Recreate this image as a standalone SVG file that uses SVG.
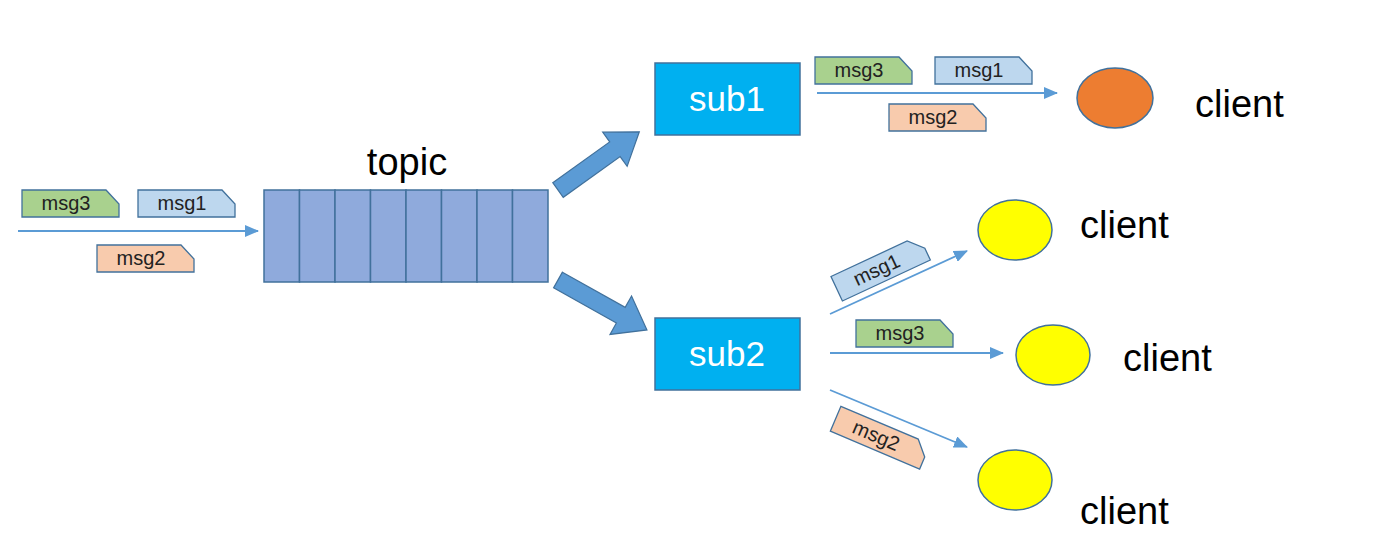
<svg xmlns="http://www.w3.org/2000/svg" width="1386" height="550" viewBox="0 0 1386 550">
<style>
.tag{stroke:#41719C;stroke-width:1.3}
.g{fill:#A9D18E}.b{fill:#BDD7EE}.o{fill:#F8CBAD}
.tt{font-family:"Liberation Sans",Arial,sans-serif;font-size:20px;fill:#222;text-anchor:middle}
.big{font-family:"Liberation Sans",Arial,sans-serif;font-size:38px;fill:#000}
.sub{fill:#00B0F0;stroke:#41719C;stroke-width:1.5}
.subt{font-family:"Liberation Sans",Arial,sans-serif;font-size:35px;fill:#fff;text-anchor:middle}
.ln{stroke:#5B9BD5;stroke-width:1.8;fill:none;marker-end:url(#ah)}
.blk{fill:#5B9BD5;stroke:#41719C;stroke-width:1.2}
.cell{fill:#8FAADC;stroke:#41719C;stroke-width:1.5}
</style>
<defs>
<marker id="ah" markerWidth="14" markerHeight="12" refX="13" refY="6" orient="auto" markerUnits="userSpaceOnUse">
<path d="M0,0 L14,6 L0,12 Z" fill="#5B9BD5"/>
</marker>
<path id="tagshape" d="M0,0 H84 L97,14 V27 H0 Z"/>
</defs>

<g id="connectors">
<line class="ln" x1="18" y1="231" x2="258" y2="231"/>
<line class="ln" x1="817" y1="93" x2="1057" y2="93"/>
<line class="ln" x1="830" y1="314" x2="967" y2="251"/>
<line class="ln" x1="830" y1="353" x2="1003" y2="353"/>
<line class="ln" x1="830" y1="390" x2="967" y2="447"/>
<polygon class="blk" transform="translate(558,190) rotate(-35.6)" points="0,-9 70,-9 70,-21 100,0 70,21 70,9 0,9"/>
<polygon class="blk" transform="translate(558,280) rotate(29.3)" points="0,-9 72,-9 72,-22 102,0 72,22 72,9 0,9"/>
</g>

<g id="in-msgs">
<g transform="translate(22,190)"><use href="#tagshape" class="tag g"/><text class="tt" x="44" y="20">msg3</text></g>
<g transform="translate(138,190)"><use href="#tagshape" class="tag b"/><text class="tt" x="44" y="20">msg1</text></g>
<g transform="translate(97,245)"><use href="#tagshape" class="tag o"/><text class="tt" x="44" y="20">msg2</text></g>
</g>

<g id="topic">
<text class="big" x="407" y="175" text-anchor="middle">topic</text>
<rect class="cell" x="264" y="190" width="35.5" height="92"/>
<rect class="cell" x="299.5" y="190" width="35.5" height="92"/>
<rect class="cell" x="335" y="190" width="35.5" height="92"/>
<rect class="cell" x="370.5" y="190" width="35.5" height="92"/>
<rect class="cell" x="406" y="190" width="35.5" height="92"/>
<rect class="cell" x="441.5" y="190" width="35.5" height="92"/>
<rect class="cell" x="477" y="190" width="35.5" height="92"/>
<rect class="cell" x="512.5" y="190" width="35.5" height="92"/>
</g>

<g id="sub1">
<rect class="sub" x="655" y="63" width="145" height="72"/>
<text class="subt" x="727" y="111">sub1</text>
</g>
<g id="sub2">
<rect class="sub" x="655" y="318" width="145" height="72"/>
<text class="subt" x="727" y="366">sub2</text>
</g>

<g id="sub1-msgs">
<g transform="translate(815,57)"><use href="#tagshape" class="tag g"/><text class="tt" x="44" y="20">msg3</text></g>
<g transform="translate(935,57)"><use href="#tagshape" class="tag b"/><text class="tt" x="44" y="20">msg1</text></g>
<g transform="translate(889,104)"><use href="#tagshape" class="tag o"/><text class="tt" x="44" y="20">msg2</text></g>
</g>

<g id="sub2-msgs">
<g transform="translate(880,268) rotate(-25) translate(-48,-13)"><use href="#tagshape" class="tag b"/><text class="tt" x="44" y="20">msg1</text></g>
<g transform="translate(856,320)"><use href="#tagshape" class="tag g"/><text class="tt" x="44" y="20">msg3</text></g>
<g transform="translate(880,437) rotate(23) translate(-48,-13)"><use href="#tagshape" class="tag o"/><text class="tt" x="44" y="20">msg2</text></g>
</g>

<g id="client1">
<ellipse cx="1115" cy="98" rx="38" ry="30" fill="#ED7D31" stroke="#41719C" stroke-width="1.5"/>
<text class="big" x="1195" y="117">client</text>
</g>
<g id="client2">
<ellipse cx="1015" cy="230" rx="37" ry="30" fill="#FFFF00" stroke="#41719C" stroke-width="1.5"/>
<text class="big" x="1080" y="238">client</text>
</g>
<g id="client3">
<ellipse cx="1053" cy="355" rx="37" ry="30" fill="#FFFF00" stroke="#41719C" stroke-width="1.5"/>
<text class="big" x="1123" y="371">client</text>
</g>
<g id="client4">
<ellipse cx="1015" cy="480" rx="37" ry="30" fill="#FFFF00" stroke="#41719C" stroke-width="1.5"/>
<text class="big" x="1080" y="524">client</text>
</g>
</svg>
